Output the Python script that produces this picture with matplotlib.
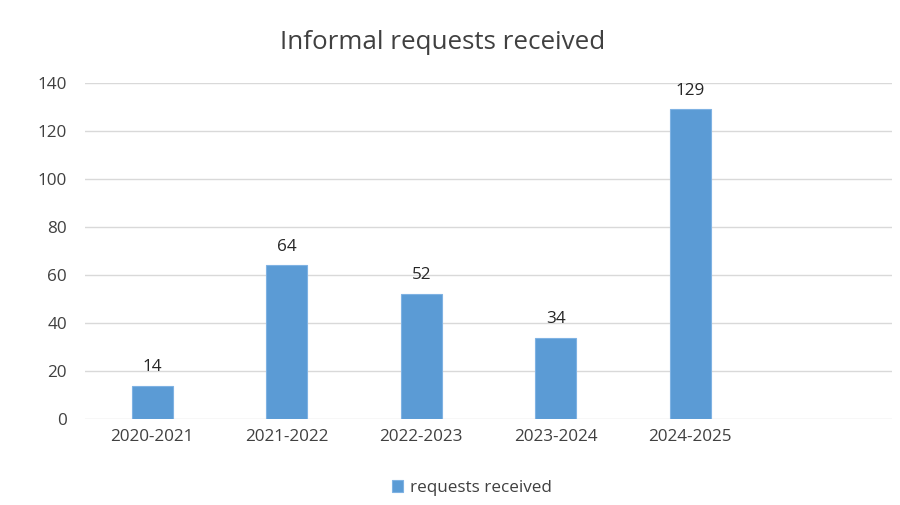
import matplotlib
matplotlib.use("Agg")
import matplotlib.pyplot as plt

plt.rcParams['font.family'] = ['Open Sans', 'DejaVu Sans']

years = ["2020-2021", "2021-2022", "2022-2023", "2023-2024", "2024-2025"]
requests = [14, 64, 52, 34, 129]

fig = plt.figure(figsize=(9, 5.05), dpi=100)
ax = fig.add_axes([0.0944, 0.170, 0.8966, 0.6656])

x = list(range(len(years)))
bars = ax.bar(x, requests, width=0.305, color="#5B9BD5", edgecolor="#7FB2E3",
              linewidth=0.8, label="requests received", zorder=3)
for xi, v in zip(x, requests):
    ax.text(xi, v + 4.5, str(v), ha="center", va="bottom", fontsize=12.3, color="#262626")

ax.set_xlim(-0.5, 5.5)
ax.set_ylim(0, 140)
ax.set_yticks(range(0, 141, 20))
ax.set_xticks(x)
ax.set_xticklabels(years)
ax.grid(axis="y", color="#D9D9D9", linewidth=1, zorder=0)
for s in ["top", "right", "left", "bottom"]:
    ax.spines[s].set_visible(False)
ax.tick_params(length=0, labelsize=12.3, colors="#404040", pad=7)
ax.tick_params(axis="y", pad=13)

fig.text(0.492, 0.915, "Informal requests received", ha="center", va="center",
         fontsize=18.7, color="#404040")
ax.legend(loc="center", bbox_to_anchor=(0.479, -0.205), frameon=False,
          fontsize=12.3, handlelength=0.65, handleheight=0.65, handletextpad=0.4,
          labelcolor="#404040")

fig.savefig("out.png", dpi=100)
